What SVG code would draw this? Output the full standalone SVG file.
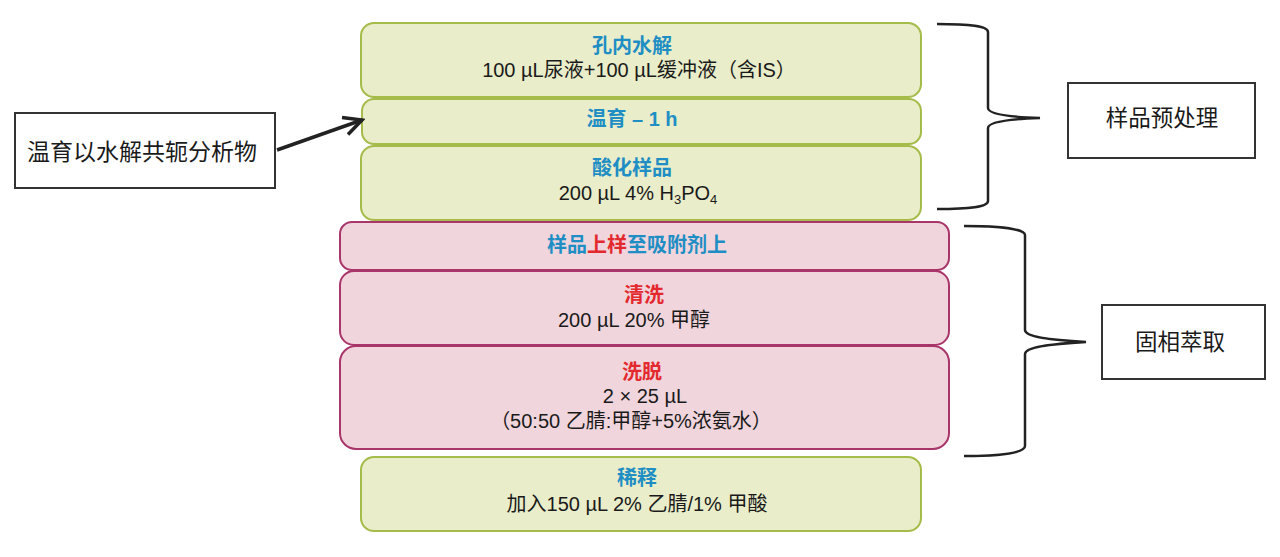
<svg xmlns="http://www.w3.org/2000/svg" width="1280" height="557" viewBox="0 0 1280 557">
<style>
.g{fill:#e9edc9;stroke:#a5bb4a;stroke-width:2}
.p{fill:#f0d5dc;stroke:#a9366a;stroke-width:2}
.lb{fill:#fff;stroke:#333;stroke-width:2}
text{font-family:"Liberation Sans","Noto Sans CJK SC",sans-serif;text-anchor:middle;fill:#1a1a1a}
.t{font-weight:bold;font-size:20px;fill:#1e8ec4}
.r{fill:#e3282e}
.s{font-size:20px}
.l{font-size:22.5px}
.ll{font-size:23px}
.br{fill:none;stroke:#222;stroke-width:2.5}
</style>
<defs>
<marker id="ah" viewBox="0 0 24 24" refX="21" refY="12" markerWidth="24" markerHeight="24" markerUnits="userSpaceOnUse" orient="auto"><path d="M3,3 L21,12 L3,21" fill="none" stroke="#222" stroke-width="3.5"/></marker>
</defs>
<g id="n1"><rect class="g" x="361" y="23" width="560" height="74" rx="13"/><text class="t" x="632" y="53">孔内水解</text><text class="s" x="639" y="77">100 µL尿液+100 µL缓冲液（含IS）</text></g>
<g id="n2"><rect class="g" x="362" y="99" width="559" height="45" rx="12"/><text class="t" x="632" y="126">温育 – 1 h</text></g>
<g id="n3"><rect class="g" x="361" y="146" width="560" height="74" rx="13"/><text class="t" x="632" y="175">酸化样品</text><text class="s" x="638" y="200">200 µL 4% H<tspan font-size="13" dy="4">3</tspan><tspan dy="-4">PO</tspan><tspan font-size="13" dy="4">4</tspan></text></g>
<g id="n4"><rect class="p" x="340" y="222" width="609" height="48" rx="12"/><text class="t" x="637" y="252">样品<tspan class="r">上样</tspan>至吸附剂上</text></g>
<g id="n5"><rect class="p" x="340" y="271" width="609" height="74" rx="14"/><text class="t r" x="644" y="302">清洗</text><text class="s" x="634" y="327">200 µL 20% 甲醇</text></g>
<g id="n6"><rect class="p" x="340" y="346" width="609" height="103" rx="16"/><text class="t r" x="642" y="379">洗脱</text><text class="s" x="645" y="403">2 × 25 µL</text><text class="s" x="631" y="428">（50:50 乙腈:甲醇+5%浓氨水）</text></g>
<g id="n7"><rect class="g" x="361" y="457" width="560" height="74" rx="13"/><text class="t" x="637" y="485">稀释</text><text class="s" x="637" y="511">加入150 µL 2% 乙腈/1% 甲酸</text></g>
<g id="n8"><rect class="lb" x="15" y="113" width="260" height="75"/><text class="ll" x="142" y="160">温育以水解共轭分析物</text></g>
<g id="n9"><rect class="lb" x="1068" y="83" width="187" height="75"/><text class="l" x="1162" y="126">样品预处理</text></g>
<g id="n10"><rect class="lb" x="1102" y="305" width="163" height="74"/><text class="l" x="1180" y="350">固相萃取</text></g>
<g id="connectors">
<line x1="277" y1="150" x2="362" y2="120" stroke="#222" stroke-width="3.5" marker-end="url(#ah)"/>
<path class="br" d="M937,24 C970,24 988,26 988,32 L988,108 C988,114 1010,117 1040,118 C1010,119 988,122 988,128 L988,201 C988,207 970,209 937,209"/>
<path class="br" d="M964,226 C1000,226 1025,229 1025,235 L1025,330 C1025,337 1050,340 1086,342 C1050,344 1025,347 1025,354 L1025,446 C1025,453 1000,456 964,456"/>
</g>
</svg>
